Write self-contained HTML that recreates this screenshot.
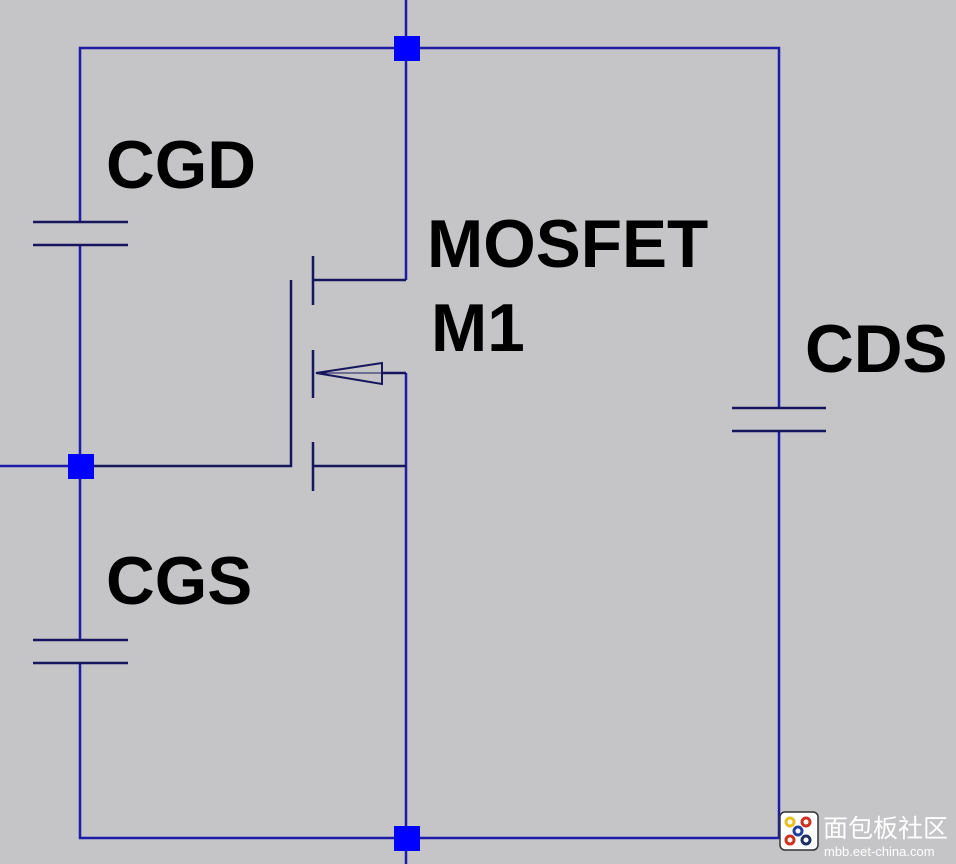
<!DOCTYPE html>
<html><head><meta charset="utf-8"><style>
html,body{margin:0;padding:0;background:#c5c4c6;}
svg{display:block}
text{font-family:"Liberation Sans",Arial,sans-serif;font-weight:bold;fill:#000}
</style></head><body>
<svg width="956" height="864" viewBox="0 0 956 864" xmlns="http://www.w3.org/2000/svg">
<rect width="956" height="864" fill="#c5c4c6"/>
<g stroke="#1c1ca8" stroke-width="2.5" fill="none">
<polyline points="80,222 80,48 779,48 779,408"/>
<line x1="406" y1="0" x2="406" y2="280"/>
<line x1="80" y1="245" x2="80" y2="640"/>
<polyline points="80,663 80,838 779,838 779,431"/>
<line x1="406" y1="373" x2="406" y2="864"/>
<line x1="0" y1="466" x2="80" y2="466"/>
</g>
<g stroke="#16165e" stroke-width="2.5" fill="none">
<line x1="33" y1="222" x2="128" y2="222"/>
<line x1="33" y1="245" x2="128" y2="245"/>
<line x1="33" y1="640" x2="128" y2="640"/>
<line x1="33" y1="663" x2="128" y2="663"/>
<line x1="732" y1="408" x2="826" y2="408"/>
<line x1="732" y1="431" x2="826" y2="431"/>
<polyline points="80,466 291,466 291,280"/>
<line x1="313" y1="256" x2="313" y2="305"/>
<line x1="313" y1="350" x2="313" y2="398"/>
<line x1="313" y1="442" x2="313" y2="491"/>
<polyline points="313,280 406,280"/>
<polyline points="313,466 406,466"/>
<polyline points="383,373 406,373"/>
<polygon points="316,373 382,363 382,384" stroke-width="2"/>
<line x1="316" y1="373" x2="382" y2="373" stroke-width="1"/>
</g>
<g fill="#0000ff">
<rect x="394" y="36" width="26" height="25"/>
<rect x="68" y="454" width="26" height="25"/>
<rect x="394" y="826" width="26" height="25"/>
</g>
<text x="106" y="188" font-size="67.5">CGD</text>
<text x="427" y="267" font-size="67.5">MOSFET</text>
<text x="431" y="351" font-size="67.5">M1</text>
<text x="805" y="372" font-size="67.5">CDS</text>
<text x="106" y="604" font-size="67.5">CGS</text>
<rect x="780" y="812" width="38" height="38" rx="5" fill="#fff" stroke="#333" stroke-width="1.5"/>
<g fill="none" stroke-width="3">
<circle cx="790" cy="822" r="4" stroke="#e8c020"/>
<circle cx="806" cy="822" r="4" stroke="#d03020"/>
<circle cx="798" cy="831" r="4" stroke="#2040a0"/>
<circle cx="790" cy="840" r="4" stroke="#d03020"/>
<circle cx="806" cy="840" r="4" stroke="#203060"/>
</g>
<text x="823" y="837" font-size="25" style="font-family:'Noto Sans CJK SC',sans-serif;font-weight:normal;fill:#fff">面包板社区</text>
<text x="824" y="856" font-size="13" style="font-weight:normal;fill:#fff">mbb.eet-china.com</text>
</svg>
</body></html>
